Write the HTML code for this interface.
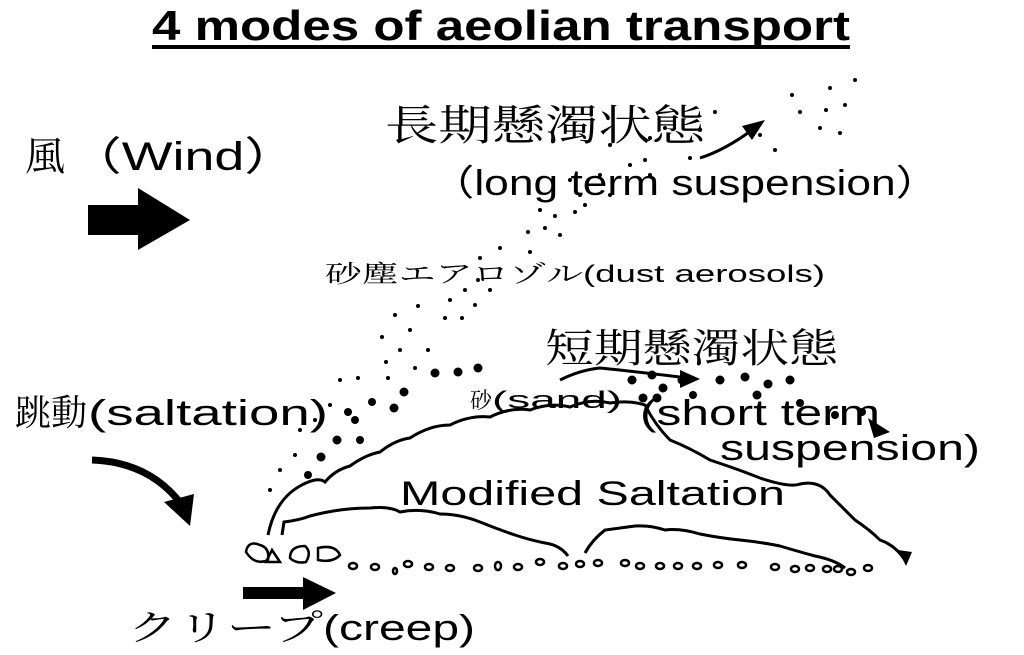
<!DOCTYPE html>
<html><head><meta charset="utf-8"><style>
html,body{margin:0;padding:0;background:#fff;width:1024px;height:655px;overflow:hidden}
svg{display:block}
.s{font-family:"Liberation Sans","Noto Sans CJK JP",sans-serif}
.j{font-family:"Liberation Serif","Noto Serif CJK SC",serif}
</style></head><body>
<svg width="1024" height="655" viewBox="0 0 1024 655" xmlns="http://www.w3.org/2000/svg">
<text class="s" x="152" y="40" font-size="42" font-weight="bold" textLength="698" lengthAdjust="spacingAndGlyphs">4 modes of aeolian transport</text>
<rect x="152" y="45" width="698" height="4" fill="#000"/>

<text class="j" x="25" y="170" font-size="40">風</text>
<text class="s" x="68" y="170" font-size="40" textLength="230" lengthAdjust="spacingAndGlyphs">（Wind）</text>
<rect x="88" y="205" width="55" height="30" fill="#000"/>
<polygon points="138,188 190,220 138,250" fill="#000"/>

<text class="j" x="385" y="140" font-size="42" textLength="320" lengthAdjust="spacingAndGlyphs">長期懸濁状態</text>
<text class="s" x="430" y="195" font-size="36" textLength="510" lengthAdjust="spacingAndGlyphs">（long term suspension）</text>
<text class="j" x="325" y="282" font-size="24" textLength="258" lengthAdjust="spacingAndGlyphs">砂塵エアロゾル</text>
<text class="s" x="583" y="282" font-size="24" textLength="242" lengthAdjust="spacingAndGlyphs">(dust aerosols)</text>
<text class="j" x="545" y="362" font-size="40" textLength="293" lengthAdjust="spacingAndGlyphs">短期懸濁状態</text>
<text class="j" x="470" y="408" font-size="22">砂</text>
<text class="s" x="492" y="408" font-size="24" textLength="130" lengthAdjust="spacingAndGlyphs">(sand)</text>
<text class="s" x="640" y="425" font-size="36" textLength="240" lengthAdjust="spacingAndGlyphs">(short term</text>
<text class="s" x="720" y="460" font-size="36" textLength="260" lengthAdjust="spacingAndGlyphs">suspension)</text>
<text class="j" x="15" y="425" font-size="36">跳動</text>
<text class="s" x="88" y="425" font-size="36" textLength="240" lengthAdjust="spacingAndGlyphs">(saltation)</text>
<text class="s" x="400" y="505" font-size="34" textLength="385" lengthAdjust="spacingAndGlyphs">Modified Saltation</text>
<text class="j" x="128" y="640" font-size="36" textLength="195" lengthAdjust="spacingAndGlyphs">クリープ</text>
<text class="s" x="323" y="640" font-size="36" textLength="152" lengthAdjust="spacingAndGlyphs">(creep)</text>

<path d="M92,460 Q150,462 182,505" stroke="#000" stroke-width="7" fill="none"/>
<polygon points="164,502 194,494 190,526" fill="#000"/>
<rect x="243" y="587" width="65" height="12" fill="#000"/>
<polygon points="303,577 336,593 303,610" fill="#000"/>
<path d="M700,158 Q725,150 752,130" stroke="#000" stroke-width="3" fill="none"/>
<polygon points="742,126 765,120 752,140" fill="#000"/>
<path d="M560,380 Q580,370 600,368 Q640,372 688,378" stroke="#000" stroke-width="3" fill="none"/>
<polygon points="680,370 700,379 680,388" fill="#000"/>
<polygon points="868,418 890,432 874,438" fill="#000"/>

<g stroke="#000" stroke-width="3" fill="none">
<path d="M268,535 Q275,500 300,486 Q318,476 325,482 Q335,470 350,466 Q365,455 380,452 Q395,440 410,438 Q430,425 450,425 Q470,415 490,417 Q510,407 530,410 Q550,402 570,407 Q590,398 610,403 Q630,400 645,405 Q655,425 670,440 Q690,448 710,460 Q740,470 760,478 Q790,488 800,484 Q820,480 830,495 Q845,510 855,520 Q870,530 880,540 Q895,545 905,560"/>
<path d="M282,535 L284,522 Q300,520 310,516 Q325,512 340,510 Q355,508 370,508 Q390,506 400,512 Q420,508 440,514 Q460,514 480,522 Q500,530 515,535 Q530,540 545,543 Q560,545 568,556"/>
<path d="M585,553 Q592,540 605,530 Q620,528 635,526 Q650,525 665,530 Q680,528 700,534 Q720,538 740,540 Q760,542 780,546 Q800,552 815,556 Q835,560 845,568"/>
</g>
<polygon points="898,550 912,552 906,566" fill="#000"/>

<g stroke="#000" stroke-width="2.5" fill="none">
<path d="M246,552 Q248,540 260,545 Q270,548 268,560 Q255,566 246,552Z"/>
<path d="M266,562 L272,550 L280,562 Z"/>
<path d="M290,558 Q290,546 305,546 Q312,552 306,562 Q296,564 290,558Z"/>
<path d="M318,548 Q335,544 340,555 Q333,563 318,560Z"/>
<ellipse cx="353" cy="566" rx="4" ry="3"/><ellipse cx="375" cy="567" rx="4" ry="3"/>
<ellipse cx="395" cy="571" rx="2" ry="3"/><ellipse cx="408" cy="564" rx="4" ry="3"/>
<ellipse cx="429" cy="567" rx="4" ry="3"/><ellipse cx="450" cy="568" rx="4" ry="3"/>
<ellipse cx="478" cy="568" rx="4" ry="3"/><ellipse cx="498" cy="566" rx="3" ry="4"/>
<ellipse cx="518" cy="567" rx="4" ry="3"/><ellipse cx="540" cy="562" rx="4" ry="3"/>
<ellipse cx="563" cy="566" rx="4" ry="3"/><ellipse cx="580" cy="564" rx="4" ry="3"/>
<ellipse cx="598" cy="563" rx="4" ry="3"/><ellipse cx="625" cy="563" rx="4" ry="3"/>
<ellipse cx="640" cy="566" rx="4" ry="3"/><ellipse cx="660" cy="566" rx="4" ry="3"/>
<ellipse cx="678" cy="566" rx="4" ry="3"/><ellipse cx="697" cy="566" rx="4" ry="3"/>
<ellipse cx="718" cy="565" rx="4" ry="3"/><ellipse cx="742" cy="565" rx="4" ry="3"/>
<ellipse cx="775" cy="567" rx="4" ry="3"/><ellipse cx="795" cy="569" rx="4" ry="3"/>
<ellipse cx="810" cy="568" rx="4" ry="3"/><ellipse cx="827" cy="569" rx="4" ry="3"/>
<ellipse cx="838" cy="569" rx="4" ry="3"/><ellipse cx="851" cy="572" rx="4" ry="3"/>
<ellipse cx="868" cy="568" rx="4" ry="3"/>
</g>

<g fill="#000">
<circle cx="435" cy="373" r="4.5"/><circle cx="458" cy="372" r="4.5"/><circle cx="478" cy="368" r="4.5"/>
<circle cx="404" cy="392" r="4.5"/><circle cx="394" cy="408" r="4.5"/><circle cx="372" cy="402" r="4"/>
<circle cx="348" cy="412" r="4"/><circle cx="337" cy="440" r="4.5"/><circle cx="321" cy="457" r="4.5"/>
<circle cx="308" cy="475" r="4"/><circle cx="355" cy="420" r="4"/><circle cx="360" cy="440" r="4"/>
<circle cx="632" cy="380" r="4.5"/><circle cx="652" cy="375" r="4.5"/><circle cx="663" cy="388" r="4.5"/>
<circle cx="682" cy="380" r="4.5"/><circle cx="693" cy="395" r="4"/><circle cx="643" cy="398" r="4.5"/>
<circle cx="657" cy="398" r="4.5"/><circle cx="720" cy="380" r="4.5"/><circle cx="745" cy="377" r="4.5"/>
<circle cx="768" cy="384" r="4.5"/><circle cx="790" cy="380" r="4.5"/><circle cx="757" cy="395" r="4.5"/>
<circle cx="800" cy="403" r="4"/><circle cx="835" cy="415" r="4"/><circle cx="862" cy="412" r="4"/>
</g>
<g fill="#000">
<circle cx="270" cy="490" r="2"/><circle cx="280" cy="470" r="2"/><circle cx="295" cy="455" r="2"/>
<circle cx="300" cy="430" r="2"/><circle cx="315" cy="420" r="2"/><circle cx="330" cy="405" r="2"/>
<circle cx="340" cy="380" r="2"/><circle cx="358" cy="378" r="2"/><circle cx="388" cy="378" r="2"/>
<circle cx="386" cy="362" r="2"/><circle cx="400" cy="350" r="2"/><circle cx="415" cy="368" r="2"/>
<circle cx="382" cy="337" r="2"/><circle cx="410" cy="330" r="2"/><circle cx="428" cy="350" r="2"/>
<circle cx="395" cy="315" r="2"/><circle cx="418" cy="306" r="2"/><circle cx="445" cy="318" r="2"/>
<circle cx="450" cy="300" r="2"/><circle cx="462" cy="318" r="2"/><circle cx="465" cy="290" r="2"/>
<circle cx="475" cy="305" r="2"/><circle cx="478" cy="280" r="2"/><circle cx="490" cy="290" r="2"/>
<circle cx="480" cy="258" r="2"/><circle cx="500" cy="248" r="2"/><circle cx="530" cy="252" r="2"/>
<circle cx="528" cy="232" r="2"/><circle cx="545" cy="228" r="2"/><circle cx="555" cy="216" r="2"/>
<circle cx="560" cy="235" r="2"/><circle cx="540" cy="210" r="2"/><circle cx="575" cy="212" r="2"/>
<circle cx="585" cy="205" r="2"/><circle cx="580" cy="195" r="2"/><circle cx="570" cy="180" r="2"/>
<circle cx="610" cy="195" r="2"/><circle cx="600" cy="175" r="2"/><circle cx="630" cy="165" r="2"/>
<circle cx="645" cy="160" r="2"/><circle cx="610" cy="145" r="2"/><circle cx="650" cy="138" r="2"/>
<circle cx="665" cy="128" r="2"/><circle cx="690" cy="158" r="2"/><circle cx="650" cy="175" r="2"/>
<circle cx="700" cy="130" r="2"/><circle cx="715" cy="112" r="2"/><circle cx="760" cy="135" r="2"/>
<circle cx="775" cy="150" r="2"/><circle cx="792" cy="95" r="2"/><circle cx="800" cy="112" r="2"/>
<circle cx="830" cy="88" r="2"/><circle cx="826" cy="110" r="2"/><circle cx="840" cy="133" r="2"/>
<circle cx="845" cy="105" r="2"/><circle cx="855" cy="80" r="2"/><circle cx="820" cy="128" r="2"/>
</g>
</svg>
</body></html>
